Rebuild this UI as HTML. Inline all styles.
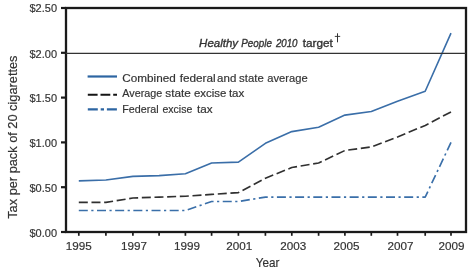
<!DOCTYPE html>
<html><head><meta charset="utf-8"><style>
html,body{margin:0;padding:0;background:#fff;}
svg{display:block;will-change:transform;}
text{font-family:"Liberation Sans",sans-serif;fill:#333;stroke:#333;stroke-width:0.18px;}
</style></head><body>
<svg width="474" height="273" viewBox="0 0 474 273">
<rect x="0" y="0" width="474" height="273" fill="#fff"/>
<g stroke="#1a1a1a" stroke-width="2.2"><line x1="78.8" y1="232" x2="78.8" y2="235.8" stroke-width="1.7"/><line x1="105.9" y1="232" x2="105.9" y2="235.8" stroke-width="1.7"/><line x1="132.9" y1="232" x2="132.9" y2="235.8" stroke-width="1.7"/><line x1="159.1" y1="232" x2="159.1" y2="235.8" stroke-width="1.7"/><line x1="185.4" y1="232" x2="185.4" y2="235.8" stroke-width="1.7"/><line x1="211.6" y1="232" x2="211.6" y2="235.8" stroke-width="1.7"/><line x1="238.4" y1="232" x2="238.4" y2="235.8" stroke-width="1.7"/><line x1="265.4" y1="232" x2="265.4" y2="235.8" stroke-width="1.7"/><line x1="291.8" y1="232" x2="291.8" y2="235.8" stroke-width="1.7"/><line x1="318.6" y1="232" x2="318.6" y2="235.8" stroke-width="1.7"/><line x1="344.9" y1="232" x2="344.9" y2="235.8" stroke-width="1.7"/><line x1="371.3" y1="232" x2="371.3" y2="235.8" stroke-width="1.7"/><line x1="397.5" y1="232" x2="397.5" y2="235.8" stroke-width="1.7"/><line x1="425.2" y1="232" x2="425.2" y2="235.8" stroke-width="1.7"/><line x1="451.0" y1="232" x2="451.0" y2="235.8" stroke-width="1.7"/><line x1="61" y1="232.0" x2="66" y2="232.0"/><line x1="61" y1="187.2" x2="66" y2="187.2"/><line x1="61" y1="142.4" x2="66" y2="142.4"/><line x1="61" y1="97.6" x2="66" y2="97.6"/><line x1="61" y1="52.8" x2="66" y2="52.8"/><line x1="61" y1="8.0" x2="66" y2="8.0"/></g>
<rect x="66" y="8" width="400" height="224" fill="none" stroke="#1a1a1a" stroke-width="2.3"/>
<polyline points="78.8,180.9 105.9,180.0 132.9,176.4 159.1,175.6 185.4,173.8 211.6,163.0 238.4,162.1 265.4,143.3 291.8,131.6 318.6,127.2 344.9,115.1 371.3,111.5 397.5,101.2 425.2,91.3 451.0,33.1" fill="none" stroke="#3a6ea8" stroke-width="1.6" stroke-linejoin="round"/>
<polyline points="78.8,202.4 105.9,202.4 132.9,198.0 159.1,197.1 185.4,196.2 211.6,194.4 238.4,192.6 265.4,178.2 291.8,167.5 318.6,163.0 344.9,150.5 371.3,146.9 397.5,137.0 425.2,125.4 451.0,111.9" fill="none" stroke="#303030" stroke-width="1.65" stroke-dasharray="9 3.676" stroke-linejoin="round"/>
<polyline points="78.8,210.5 105.9,210.5 132.9,210.5 159.1,210.5 185.4,210.5 211.6,201.5 238.4,201.5 265.4,197.1 291.8,197.1 318.6,197.1 344.9,197.1 371.3,197.1 397.5,197.1 425.2,197.1 451.0,142.4" fill="none" stroke="#3a6fa9" stroke-width="1.65" stroke-dasharray="9 3.49 2.2 3.49" stroke-linejoin="round"/>
<line x1="66" y1="53.4" x2="466" y2="53.4" stroke="#333" stroke-width="1.15"/>
<line x1="87.6" y1="76.5" x2="117" y2="76.5" stroke="#2d65a2" stroke-width="2.2"/>
<line x1="87.8" y1="94.7" x2="117" y2="94.7" stroke="#151515" stroke-width="2.1" stroke-dasharray="9.8 2.9"/>
<line x1="87.8" y1="109.4" x2="117" y2="109.4" stroke="#2d65a2" stroke-width="2.1" stroke-dasharray="10 2.9 3.3 2.9"/>
<g font-size="11.3">
<text x="122.3" y="81.8" textLength="53.4" lengthAdjust="spacingAndGlyphs">Combined</text>
<text x="179.7" y="81.8" textLength="36.0" lengthAdjust="spacingAndGlyphs">federal</text>
<text x="217.1" y="81.8" textLength="19.2" lengthAdjust="spacingAndGlyphs">and</text>
<text x="239.1" y="81.8" textLength="24.6" lengthAdjust="spacingAndGlyphs">state</text>
<text x="267.3" y="81.8" textLength="40.4" lengthAdjust="spacingAndGlyphs">average</text>
<text x="122.3" y="97.3" textLength="40.0" lengthAdjust="spacingAndGlyphs">Average</text>
<text x="165.3" y="97.3" textLength="25.6" lengthAdjust="spacingAndGlyphs">state</text>
<text x="193.9" y="97.3" textLength="32.4" lengthAdjust="spacingAndGlyphs">excise</text>
<text x="228.9" y="97.3" textLength="15.4" lengthAdjust="spacingAndGlyphs">tax</text>
<text x="122.3" y="112.8" textLength="36.4" lengthAdjust="spacingAndGlyphs">Federal</text>
<text x="162.5" y="112.8" textLength="29.8" lengthAdjust="spacingAndGlyphs">excise</text>
<text x="197.1" y="112.8" textLength="15.6" lengthAdjust="spacingAndGlyphs">tax</text>
</g>
<g font-size="11.2" style="stroke-width:0.35px">
<text x="199.1" y="47.4" textLength="39.0" lengthAdjust="spacingAndGlyphs" style="stroke-width:0.35px" font-style="italic">Healthy</text>
<text x="241.3" y="47.4" textLength="30.6" lengthAdjust="spacingAndGlyphs" style="stroke-width:0.35px" font-style="italic">People</text>
<text x="275.9" y="47.4" textLength="21.6" lengthAdjust="spacingAndGlyphs" style="stroke-width:0.35px" font-style="italic">2010</text>
<text x="302.7" y="47.4" textLength="30.0" lengthAdjust="spacingAndGlyphs" style="stroke-width:0.35px">target</text>
</g>
<g stroke="#333"><path d="M337.5 33.3 L337.5 42.3" stroke-width="1.0"/><line x1="334.8" y1="36.4" x2="340.2" y2="36.4" stroke-width="0.95"/></g>
<g font-size="11.6"><text x="29.5" y="236.8" textLength="27.5" lengthAdjust="spacingAndGlyphs">$0.00</text><text x="29.5" y="192.0" textLength="27.5" lengthAdjust="spacingAndGlyphs">$0.50</text><text x="29.5" y="147.2" textLength="27.5" lengthAdjust="spacingAndGlyphs">$1.00</text><text x="29.5" y="102.4" textLength="27.5" lengthAdjust="spacingAndGlyphs">$1.50</text><text x="29.5" y="57.6" textLength="27.5" lengthAdjust="spacingAndGlyphs">$2.00</text><text x="29.5" y="12.4" textLength="27.5" lengthAdjust="spacingAndGlyphs">$2.50</text><text x="65.7" y="250.3" textLength="26" lengthAdjust="spacingAndGlyphs">1995</text><text x="120.9" y="250.3" textLength="26" lengthAdjust="spacingAndGlyphs">1997</text><text x="173.9" y="250.3" textLength="26" lengthAdjust="spacingAndGlyphs">1999</text><text x="226.2" y="250.3" textLength="26" lengthAdjust="spacingAndGlyphs">2001</text><text x="280.3" y="250.3" textLength="26" lengthAdjust="spacingAndGlyphs">2003</text><text x="333.5" y="250.3" textLength="26" lengthAdjust="spacingAndGlyphs">2005</text><text x="387.5" y="250.3" textLength="26" lengthAdjust="spacingAndGlyphs">2007</text><text x="438.6" y="250.3" textLength="26" lengthAdjust="spacingAndGlyphs">2009</text></g>
<text x="255.7" y="266.9" font-size="12.8" textLength="23.6" lengthAdjust="spacingAndGlyphs">Year</text>
<text transform="translate(16.9,218.8) rotate(-90)" font-size="13.5" textLength="163.3" lengthAdjust="spacingAndGlyphs">Tax per pack of 20 cigarettes</text>
</svg>
</body></html>
